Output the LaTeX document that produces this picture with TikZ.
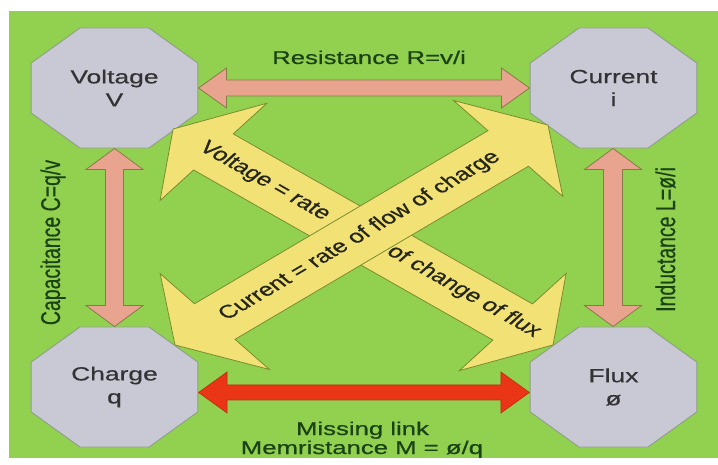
\documentclass[tikz,border=0pt]{standalone}
\usepackage{fontspec}
\setmainfont{Liberation Sans}
\newfontfamily\heavyfont{Liberation Sans}[FakeBold=0.5]
\usetikzlibrary{calc,shapes.geometric}
\definecolor{bggreen}{HTML}{92D050}
\definecolor{octfill}{HTML}{C9C9D5}
\definecolor{octline}{HTML}{8E9E86}
\definecolor{octtext}{HTML}{333336}
\definecolor{pinkfill}{HTML}{E9A48F}
\definecolor{pinkline}{HTML}{8A7A4A}
\definecolor{redfill}{HTML}{EA3516}
\definecolor{redline}{HTML}{B8300F}
\definecolor{yellowfill}{HTML}{F2E276}
\definecolor{yellowline}{HTML}{7A8C2E}
\definecolor{lblgreen}{HTML}{1A4214}
\definecolor{ytextcol}{HTML}{262618}
\tikzset{
  oct/.style={regular polygon, regular polygon sides=8, minimum size=129.9pt,
    inner sep=0pt, fill=octfill, draw=octline, line width=0.9pt, text=octtext,
    font=\heavyfont\fontsize{19}{23}\selectfont, align=center},
  parrow/.style={fill=pinkfill, draw=pinkline, line width=0.8pt},
  rarrow/.style={fill=redfill, draw=redline, line width=0.6pt},
  yarrow/.style={fill=yellowfill, draw=yellowline, line width=0.8pt},
  lbl/.style={text=lblgreen, font=\heavyfont\fontsize{18.5}{22}\selectfont, inner sep=0pt},
  vlbl/.style={text=lblgreen, font=\heavyfont\fontsize{19.5}{22}\selectfont, inner sep=0pt, rotate=90},
  ytxt/.style={text=ytextcol, font=\heavyfont\fontsize{18.5}{22}\selectfont, inner sep=0pt}
}
% horizontal double block arrow: style, left tip, right tip, shaft half, head half, head length
\newcommand\myharrow[6]{%
  \draw[#1] (#2) -- ++(#6,-#5) -- ++(0,{#5-#4}) -- ($(#3)+(-#6,-#4)$) -- ++(0,{#4-#5})
    -- (#3) -- ++(-#6,#5) -- ++(0,{#4-#5}) -- ($(#2)+(#6,#4)$) -- ++(0,{#5-#4}) -- cycle;}
% vertical double block arrow: style, top tip, bottom tip, shaft half, head half, head length
\newcommand\myvarrow[6]{%
  \draw[#1] (#2) -- ++(#5,#6) -- ++({#4-#5},0) -- ($(#3)+(#4,-#6)$) -- ++({#5-#4},0)
    -- (#3) -- ++(-#5,-#6) -- ++({#5-#4},0) -- ($(#2)+(-#4,#6)$) -- ++({#4-#5},0) -- cycle;}
% diagonal double block arrow in local frame: style, length
\newcommand\mydarrow[2]{%
  \draw[#1] (0,0) -- (37,62) -- (37,23) -- ({#2-37},23) -- ({#2-37},62) -- (#2,0)
    -- ({#2-37},-62) -- ({#2-37},-23) -- (37,-23) -- (37,-62) -- cycle;}
\begin{document}
\begin{tikzpicture}[x=1pt,y=-1pt]
\useasboundingbox (0,0) rectangle (718,465);
\fill[bggreen] (9,11) rectangle (718,458);

\begin{scope}[xscale=1.39, transform shape]
  \node[oct] (V) at (82.37,88)  {Voltage\\V};
  \node[oct] (I) at (441.37,88) {Current\\i};
  \node[oct] (Q) at (82.37,387) {Charge\\q};
  \node[oct] (F) at (441.37,387) {Flux\\ø};
\end{scope}

\coordinate (m1) at ($(Q.east)+(0,5.5)$);
\coordinate (m2) at ($(F.west)+(0,5.5)$);
\coordinate (l1) at ($(I.south)+(-0.5,0)$);
\coordinate (l2) at ($(F.north)+(-0.5,0)$);

\myharrow{parrow}{V.east}{I.west}{8}{20}{28}
\myvarrow{parrow}{V.south}{Q.north}{9}{28.5}{21}
\myvarrow{parrow}{l1}{l2}{9.5}{28.5}{21}
\myharrow{rarrow}{m1}{m2}{7.5}{20.5}{28.5}

\begin{scope}[xscale=1.39, transform shape]
  \begin{scope}[shift={(124.5,129)}, rotate=-38.3]
    \mydarrow{yarrow}{348.4}
    \node[ytxt] (ta1) at (84,0) {Voltage = rate};
    \node[ytxt] (ta2) at (265,-2) {of change of flux};
  \end{scope}
  \begin{scope}[shift={(125.9,345)}, rotate=39.35]
    \mydarrow{yarrow}{347}
    \node[ytxt] (tb) at (172,0) {Current = rate of flow of charge};
  \end{scope}
  \node[lbl, anchor=base] (lr) at (265.5,64) {Resistance R=v/i};
  \node[lbl, anchor=base] (lm1) at (260.8,435) {Missing link};
  \node[lbl, anchor=base] (lm2) at (260.4,454) {Memristance M = ø/q};
  \node[vlbl] (lc) at (38.1,242.5) {Capacitance C=q/v};
  \node[vlbl] (ll) at (478.8,239.5) {Inductance L=ø/i};
\end{scope}
\end{tikzpicture}
\end{document}
